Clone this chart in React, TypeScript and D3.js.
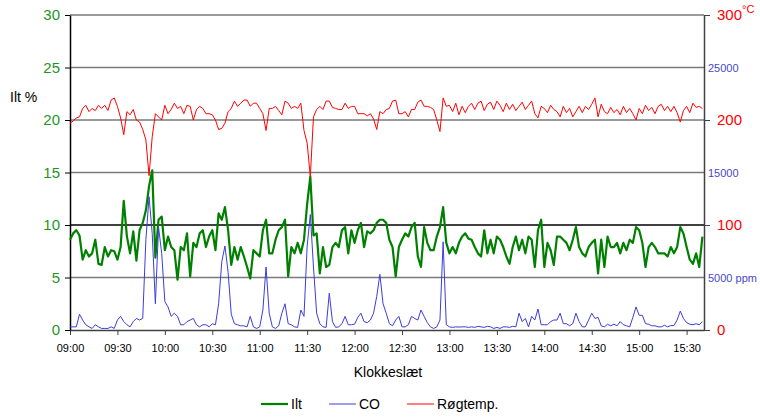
import React, { useEffect, useRef } from 'react';
import * as d3 from 'd3';

// one sample every 2 minutes, starting 09:00
const sampleStep = 2;
const timeLabels = ['09:00', '09:30', '10:00', '10:30', '11:00', '11:30', '12:00', '12:30', '13:00', '13:30', '14:00', '14:30', '15:00', '15:30'];
const iltTicks = [0, 5, 10, 15, 20, 25, 30];
const tempTicks = [0, 100, 200, 300];
const coTicks = [5000, 15000, 25000];

// Ilt %
const iltValues = [
  8.6, 9.2, 9.5, 9.0, 6.7, 7.6, 7.0, 7.3, 8.6, 6.3,
  6.2, 7.9, 7.0, 7.6, 7.5, 6.7, 7.9, 12.3, 8.9, 7.3,
  9.4, 6.6, 9.5, 10.2, 11.4, 13.7, 15.2, 6.9, 10.5, 10.8,
  7.6, 8.9, 7.9, 7.6, 4.8, 7.9, 7.6, 9.2, 5.1, 8.3,
  7.9, 9.2, 9.5, 7.9, 8.9, 9.5, 7.6, 11.1, 10.5, 11.7,
  9.5, 6.2, 7.9, 6.7, 7.9, 7.0, 6.0, 4.9, 7.6, 7.3,
  7.0, 9.5, 10.5, 7.3, 7.3, 8.6, 9.5, 9.8, 10.5, 5.1,
  7.9, 7.3, 8.3, 7.3, 8.6, 12.0, 14.6, 9.0, 9.2, 5.4,
  7.9, 6.0, 6.2, 7.9, 8.3, 7.9, 9.5, 9.8, 7.3, 9.5,
  8.3, 9.5, 10.2, 7.9, 9.4, 9.2, 9.5, 10.2, 10.5, 10.5,
  10.2, 8.6, 7.9, 5.1, 7.9, 8.6, 9.2, 8.9, 9.8, 10.2,
  7.0, 6.0, 9.8, 8.3, 7.6, 7.6, 8.9, 9.8, 11.7, 8.3,
  7.3, 7.9, 7.3, 8.3, 8.9, 9.2, 8.7, 8.6, 7.9, 7.3,
  7.0, 9.5, 7.3, 8.6, 7.3, 8.9, 8.6, 7.9, 7.0, 6.3,
  7.9, 8.9, 7.6, 8.6, 7.3, 8.9, 8.6, 6.0, 9.5, 10.5,
  6.0, 8.3, 7.6, 6.2, 8.9, 8.9, 8.6, 8.3, 7.6, 8.6,
  9.8, 7.9, 7.3, 7.0, 7.9, 8.3, 8.6, 5.4, 8.6, 6.0,
  8.9, 7.9, 7.9, 8.3, 7.3, 8.3, 7.6, 8.6, 8.3, 9.8,
  9.5, 8.3, 6.0, 7.9, 8.3, 7.9, 7.3, 7.3, 7.3, 7.0,
  7.9, 7.3, 7.9, 9.8, 9.2, 7.9, 6.7, 6.3, 7.3, 6.0,
  8.9
];

// CO ppm
const coValues = [
  300, 300, 300, 1500, 950, 500, 300, 150, 500, 300,
  150, 150, 150, 300, 150, 950, 1300, 800, 500, 300,
  800, 1100, 950, 1100, 8600, 12700, 9200, 2500, 9800, 7300,
  2700, 2200, 1300, 1600, 1300, 500, 500, 800, 950, 1100,
  500, 300, 500, 500, 300, 600, 500, 2500, 6500, 8000,
  5500, 1500, 600, 500, 400, 400, 300, 1300, 300, 150,
  300, 1900, 6000, 1600, 300, 150, 400, 1600, 2500, 600,
  500, 300, 250, 1900, 1300, 8000, 11000, 6000, 1600, 600,
  300, 250, 3500, 800, 250, 300, 600, 1300, 500, 500,
  550, 1200, 1600, 800, 700, 950, 1600, 3200, 5300, 2500,
  1600, 600, 400, 950, 1300, 300, 300, 500, 1300, 1100,
  950, 1900, 1300, 700, 300, 150, 300, 950, 8400, 500,
  300, 250, 300, 280, 300, 300, 250, 300, 250, 350,
  300, 250, 350, 300, 150, 250, 150, 300, 300, 250,
  350, 300, 1600, 800, 1100, 300, 1300, 950, 2000, 500,
  500, 500, 800, 950, 950, 1600, 600, 600, 400, 600,
  1600, 800, 300, 300, 950, 1600, 1100, 1200, 400, 300,
  550, 400, 550, 400, 800, 500, 400, 300, 1200, 2200,
  1400, 1400, 600, 550, 400, 400, 300, 300, 450, 300,
  420, 420, 950, 1800, 1100, 700, 550, 500, 600, 500,
  800
];

// Røgtemp. °C
const tempValues = [
  197, 199, 202, 203, 211, 214, 208, 211, 209, 214,
  211, 214, 209, 219, 221, 213, 202, 186, 208, 205,
  210, 200, 198, 191, 181, 147, 184, 206, 203, 200,
  214, 206, 210, 216, 211, 213, 206, 214, 213, 200,
  210, 213, 211, 206, 206, 205, 200, 191, 192, 197,
  208, 211, 218, 213, 216, 219, 219, 213, 216, 216,
  211, 206, 190, 211, 211, 213, 209, 205, 218, 216,
  211, 213, 211, 216, 190, 178, 146, 203, 210, 213,
  210, 218, 218, 212, 211, 210, 210, 216, 211, 213,
  213, 206, 206, 206, 204, 206, 201, 191, 208, 206,
  210, 211, 218, 219, 206, 206, 208, 203, 210, 210,
  217, 219, 213, 213, 212, 210, 200, 189, 221, 213,
  214, 208, 216, 205, 213, 207, 213, 216, 210, 216,
  218, 209, 215, 217, 210, 218, 214, 208, 216, 210,
  215, 209, 213, 217, 210, 214, 218, 206, 202, 213,
  211, 207, 214, 210, 208, 203, 213, 207, 211, 203,
  208, 213, 207, 213, 210, 215, 221, 203, 215, 208,
  206, 212, 207, 210, 205, 213, 207, 211, 206, 200,
  211, 206, 214, 209, 212, 206, 213, 215, 209, 213,
  208, 213, 207, 198, 209, 213, 207, 216, 212, 213,
  211
];

const FONT = '"Liberation Sans", Arial, sans-serif';
const GREEN = '#008000';
const GREEN_TEXT = '#1e961e';
const BLUE = '#3c3cdc';
const BLUE_TEXT = '#4848c8';
const RED = '#ff0000';

export default function App() {
  const ref = useRef<SVGSVGElement>(null);

  useEffect(() => {
    const svg = d3.select(ref.current);
    svg.selectAll('*').remove();

    const left = 70, right = 704, top = 15, bottom = 330;
    const x = d3.scaleLinear().domain([0, 401]).range([left, right]);
    const y = d3.scaleLinear().domain([0, 30]).range([bottom, top]);
    const yTemp = d3.scaleLinear().domain([0, 300]).range([bottom, top]);
    const yCo = d3.scaleLinear().domain([0, 30000]).range([bottom, top]);

    // gridlines
    svg.append('g')
      .selectAll('line')
      .data(iltTicks.filter(d => d > 0))
      .join('line')
      .attr('x1', left).attr('x2', right)
      .attr('y1', d => y(d)).attr('y2', d => y(d))
      .attr('stroke', d => (d === 10 ? '#000' : '#7a7a7a'))
      .attr('stroke-width', 1.4);

    // x axis
    const xAxis = svg.append('g')
      .attr('transform', `translate(0,${bottom})`)
      .call(d3.axisBottom(x)
        .tickValues(timeLabels.map((_, i) => i * 30))
        .tickFormat((_, i) => timeLabels[i])
        .tickSize(5).tickSizeOuter(0).tickPadding(9));
    xAxis.select('.domain').attr('stroke', '#404040').attr('stroke-width', 1.4);
    xAxis.selectAll('.tick line').attr('stroke', '#404040');
    xAxis.selectAll('text').attr('font-family', FONT).attr('font-size', 11).attr('fill', '#000');

    // left axis (Ilt %)
    const yAxis = svg.append('g')
      .attr('transform', `translate(${left},0)`)
      .call(d3.axisLeft(y).tickValues(iltTicks).tickSize(5).tickSizeOuter(0).tickPadding(5));
    yAxis.select('.domain').attr('stroke', '#000').attr('stroke-width', 1.5);
    yAxis.selectAll('.tick line').attr('stroke', '#000');
    yAxis.selectAll('text').attr('font-family', FONT).attr('font-size', 15).attr('fill', GREEN_TEXT);

    // right axis (temperature)
    const tAxis = svg.append('g')
      .attr('transform', `translate(${right},0)`)
      .call(d3.axisRight(yTemp).tickValues(tempTicks).tickSize(6).tickSizeOuter(0).tickPadding(7));
    tAxis.select('.domain').attr('stroke', '#404040').attr('stroke-width', 1.5);
    tAxis.selectAll('.tick line').attr('stroke', '#404040');
    tAxis.selectAll('text').attr('font-family', FONT).attr('font-size', 15).attr('fill', RED);

    // CO labels on the right
    const cAxis = svg.append('g')
      .attr('transform', `translate(${right},0)`)
      .call(d3.axisRight(yCo).tickValues(coTicks).tickSize(0).tickPadding(4)
        .tickFormat(d => (d === 5000 ? '5000 ppm' : String(d))));
    cAxis.select('.domain').remove();
    cAxis.selectAll('text').attr('font-family', FONT).attr('font-size', 11).attr('fill', BLUE_TEXT);

    svg.append('text')
      .attr('x', 742).attr('y', 13)
      .attr('font-family', FONT).attr('font-size', 11).attr('fill', RED)
      .text('°C');

    svg.append('text')
      .attr('x', 10).attr('y', 102)
      .attr('font-family', FONT).attr('font-size', 14).attr('fill', '#000')
      .text('Ilt %');

    svg.append('text')
      .attr('x', 388).attr('y', 377)
      .attr('text-anchor', 'middle')
      .attr('font-family', FONT).attr('font-size', 14).attr('fill', '#000')
      .text('Klokkeslæt');

    // series
    const line = (scale: d3.ScaleLinear<number, number>) =>
      d3.line<number>().x((_, i) => x(i * sampleStep)).y(d => scale(d));

    svg.append('path')
      .datum(iltValues)
      .attr('fill', 'none').attr('stroke', GREEN).attr('stroke-width', 2.2)
      .attr('stroke-linejoin', 'round')
      .attr('d', line(y));
    svg.append('path')
      .datum(coValues)
      .attr('fill', 'none').attr('stroke', BLUE).attr('stroke-width', 1)
      .attr('d', line(yCo));
    svg.append('path')
      .datum(tempValues)
      .attr('fill', 'none').attr('stroke', RED).attr('stroke-width', 1)
      .attr('d', line(yTemp));

    // legend
    const legend = [
      { label: 'Ilt', color: GREEN, width: 2.2, x: 261 },
      { label: 'CO', color: BLUE, width: 1, x: 329 },
      { label: 'Røgtemp.', color: RED, width: 1, x: 407 }
    ];
    const lg = svg.append('g').selectAll('g').data(legend).join('g')
      .attr('transform', d => `translate(${d.x},404)`);
    lg.append('line')
      .attr('x1', 0).attr('x2', 27).attr('y1', 0).attr('y2', 0)
      .attr('stroke', d => d.color).attr('stroke-width', d => d.width);
    lg.append('text')
      .attr('x', 30).attr('y', 5)
      .attr('font-family', FONT).attr('font-size', 14).attr('fill', '#000')
      .text(d => d.label);
  }, []);

  return (
    <svg ref={ref} width={760} height={417} style={{ position: 'absolute', left: 0, top: 0, background: '#fff' }} />
  );
}
